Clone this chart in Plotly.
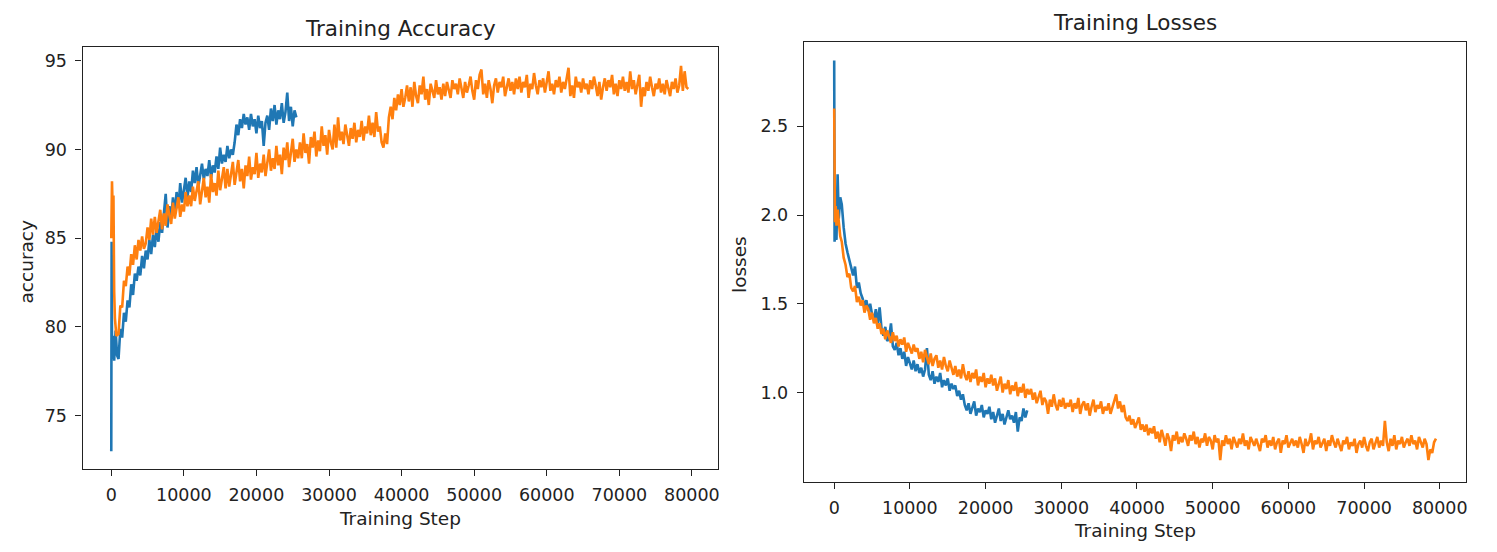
import plotly.graph_objects as go

# ---- data (training step vs. metric) ----
# the first few hundred steps are listed point by point, the rest is
# sampled every STEP steps starting at step 1000 (20 values = 5000 steps per row)
STEP = 250

# accuracy, run 1 (blue)
acc1_early_x = [0, 50, 100, 200, 300, 400, 600, 800]
acc1_early_y = [73.0, 84.8, 79.0, 78.2, 79.5, 78.1, 79.8, 78.4]
acc1_y = [
    78.2, 79.9, 79.4, 80.8, 80.3, 81.5, 81.1, 82.4, 81.8, 83.0, 82.6, 83.4, 82.9, 84.0, 83.3, 84.3, 83.8, 84.9, 84.1, 85.2,
    84.5, 85.6, 84.8, 85.9, 85.3, 86.4, 87.5, 85.6, 86.8, 86.1, 87.3, 86.4, 87.6, 86.7, 88.1, 87.0, 87.8, 88.4, 87.3, 88.2,
    87.6, 88.8, 88.1, 89.0, 87.9, 88.6, 89.2, 88.3, 88.9, 88.5, 89.4, 88.4, 89.1, 88.7, 89.6, 88.9, 90.1, 89.2, 89.7, 89.3,
    90.2, 89.5, 90.0, 89.7, 90.4, 91.4, 90.8, 91.7, 91.2, 92.0, 91.4, 91.8, 91.1, 92.0, 91.3, 91.7, 90.9, 91.9, 91.2, 91.6,
    90.2, 91.5, 91.9, 91.1, 92.3, 91.6, 92.5, 91.4, 92.2, 91.7, 92.6, 91.5, 92.1, 93.2, 91.6, 92.4, 91.3, 92.2, 91.8,
]

# accuracy, run 2 (orange)
acc2_early_x = [0, 100, 200, 300, 400, 500, 700]
acc2_early_y = [85.0, 88.2, 86.5, 87.4, 82.0, 80.5, 79.5]
acc2_y = [
    79.6, 81.2, 81.1, 82.6, 82.3, 83.4, 82.9, 84.1, 83.5, 84.6, 83.8, 84.9, 84.3, 85.1, 84.4, 84.7, 85.6, 84.9, 86.1, 85.2,
    86.2, 85.3, 85.9, 86.6, 85.5, 86.4, 85.7, 86.9, 86.3, 85.8, 87.0, 86.1, 86.7, 87.3, 86.2, 86.9, 86.5, 87.6, 86.8, 87.4,
    86.8, 87.9, 87.1, 87.6, 88.2, 86.9, 87.7, 88.4, 87.3, 87.9, 87.0, 88.6, 87.6, 88.1, 87.4, 88.8, 87.7, 88.3, 89.0, 87.8,
    88.9, 87.9, 88.6, 89.3, 88.0, 88.7, 89.4, 88.2, 88.9, 87.8, 89.1, 88.5, 89.6, 88.3, 89.0, 88.6, 89.8, 88.4, 89.2, 88.7,
    89.7, 88.5, 89.3, 90.0, 88.8, 89.5, 88.9, 90.2, 89.1, 89.7, 88.6, 90.1, 89.4, 90.4, 89.0, 89.8, 90.6, 89.3, 90.0, 89.5,
    90.4, 89.5, 90.9, 89.8, 90.3, 89.2, 90.7, 90.1, 91.0, 89.6, 90.5, 89.9, 91.3, 90.2, 90.8, 89.7, 91.1, 90.4, 90.0, 91.4,
    90.1, 91.8, 90.5, 91.0, 90.3, 91.4, 90.8, 90.2, 91.2, 90.6, 91.5, 90.4, 91.1, 90.7, 91.6, 90.5, 91.3, 90.9, 91.9, 90.8,
    91.5, 90.7, 92.1, 91.0, 91.3, 90.4, 90.1, 90.9, 90.3, 91.8, 92.4, 91.7, 92.9, 92.2, 93.1, 92.5, 93.4, 92.4, 92.9, 93.6,
    92.7, 93.5, 92.4, 93.8, 93.0, 92.6, 93.6, 93.1, 94.1, 92.8, 93.4, 92.5, 93.7, 93.2, 92.9, 93.9, 93.1, 93.5, 92.8, 93.7,
    93.0, 93.8, 93.3, 92.9, 93.9, 93.4, 93.7, 93.1, 94.0, 93.5, 92.9, 93.8, 93.2, 93.6, 94.1, 93.3, 92.8, 93.9, 93.4, 94.2,
    94.5, 93.1, 93.7, 92.9, 93.9, 93.4, 92.6, 93.6, 94.0, 93.2, 93.8, 93.5, 94.1, 93.0, 93.6, 94.0, 93.3, 93.8, 93.1, 94.0,
    93.4, 94.1, 93.2, 93.8, 93.5, 94.2, 92.9, 93.7, 93.4, 94.3, 93.6, 93.1, 93.9, 93.5, 94.0, 93.2, 93.8, 94.4, 93.3, 93.7,
    93.1, 93.9, 93.5, 94.1, 93.2, 93.8, 93.4, 94.0, 94.6, 93.0, 93.6, 92.9, 94.1, 93.5, 93.8, 93.2, 94.0, 93.4, 93.7, 93.1,
    93.9, 93.4, 94.1, 93.6, 93.0, 93.8, 92.8, 93.5, 94.0, 93.3, 93.9, 93.5, 94.2, 93.1, 93.7, 93.0, 93.9, 93.4, 94.1, 93.3,
    93.8, 93.2, 94.4, 93.4, 93.9, 93.1, 93.6, 94.2, 92.4, 93.5, 93.0, 93.8, 93.3, 94.1, 93.5, 93.0, 93.7, 93.4, 94.0, 93.2,
    93.7, 93.1, 93.9, 93.5, 93.0, 93.8, 93.4, 94.0, 93.2, 93.6, 94.7, 93.3, 94.4, 93.5, 93.4,
]

# losses, run 1 (blue)
loss1_early_x = [0, 50, 150, 300, 450, 600, 800]
loss1_early_y = [2.87, 1.85, 1.95, 1.86, 2.23, 1.98, 2.10]
loss1_y = [
    2.06, 1.93, 1.84, 1.79, 1.74, 1.70, 1.66, 1.71, 1.59, 1.62, 1.56, 1.53, 1.49, 1.52, 1.46, 1.50, 1.44, 1.41, 1.47, 1.39,
    1.48, 1.36, 1.32, 1.37, 1.29, 1.31, 1.39, 1.26, 1.24, 1.28, 1.21, 1.25, 1.19, 1.23, 1.15, 1.20, 1.17, 1.13, 1.18, 1.12,
    1.16, 1.11, 1.14, 1.09, 1.13, 1.25, 1.10, 1.07, 1.12, 1.05, 1.09, 1.06, 1.11, 1.03, 1.07, 1.04, 1.08, 1.01, 1.05, 1.02,
    1.04, 0.98, 1.01, 0.96, 0.99, 0.93, 0.90, 0.94, 0.88, 0.92, 0.95, 0.87, 0.91, 0.89, 0.93, 0.86, 0.90, 0.88, 0.92, 0.85,
    0.89, 0.83, 0.87, 0.91, 0.84, 0.88, 0.82, 0.86, 0.90, 0.85, 0.87, 0.83, 0.89, 0.78, 0.86, 0.84, 0.91, 0.86, 0.90,
]

# losses, run 2 (orange)
loss2_early_x = [0, 100, 200, 300, 450, 600, 800]
loss2_early_y = [2.60, 1.96, 2.05, 1.94, 2.03, 1.95, 1.88]
loss2_y = [
    1.85, 1.76, 1.72, 1.65, 1.67, 1.59, 1.57, 1.60, 1.51, 1.54, 1.49, 1.52, 1.45, 1.49, 1.47, 1.41, 1.45, 1.39, 1.42, 1.36,
    1.39, 1.33, 1.36, 1.30, 1.35, 1.32, 1.28, 1.34, 1.29, 1.32, 1.26, 1.30, 1.27, 1.31, 1.23, 1.28, 1.25, 1.22, 1.27, 1.23,
    1.25, 1.19, 1.23, 1.17, 1.24, 1.20, 1.16, 1.22, 1.15, 1.19, 1.21, 1.14, 1.18, 1.13, 1.20, 1.15, 1.12, 1.18, 1.14, 1.10,
    1.15, 1.09, 1.13, 1.08, 1.16, 1.10, 1.07, 1.12, 1.06, 1.11, 1.08, 1.13, 1.04, 1.09, 1.06, 1.11, 1.03, 1.08, 1.05, 1.10,
    1.04, 1.08, 1.01, 1.06, 1.09, 1.00, 1.05, 1.02, 1.07, 0.99, 1.04, 1.01, 1.06, 0.98, 1.03, 1.00, 1.05, 0.97, 1.02, 0.99,
    1.02, 0.96, 1.00, 0.94, 0.98, 1.01, 0.93, 0.97, 0.95, 0.88, 0.96, 0.92, 0.99, 0.93, 0.90, 0.96, 0.92, 0.97, 0.91, 0.94,
    0.92, 0.96, 0.89, 0.94, 0.91, 0.97, 0.88, 0.93, 0.95, 0.90, 0.94, 0.87, 0.92, 0.96, 0.89, 0.93, 0.91, 0.95, 0.88, 0.92,
    0.90, 0.94, 0.88, 0.92, 0.96, 0.99, 0.91, 0.95, 0.89, 0.93, 0.86, 0.84, 0.87, 0.82, 0.85, 0.80, 0.83, 0.86, 0.79, 0.82,
    0.78, 0.82, 0.76, 0.80, 0.77, 0.81, 0.74, 0.78, 0.72, 0.79, 0.75, 0.70, 0.77, 0.74, 0.67, 0.76, 0.73, 0.78, 0.71, 0.75,
    0.72, 0.77, 0.74, 0.70, 0.76, 0.73, 0.78, 0.71, 0.75, 0.69, 0.74, 0.72, 0.77, 0.70, 0.75, 0.73, 0.68, 0.76, 0.72, 0.74,
    0.62, 0.73, 0.70, 0.76, 0.71, 0.74, 0.68, 0.75, 0.72, 0.69, 0.74, 0.71, 0.77, 0.70, 0.73, 0.68, 0.75, 0.72, 0.70, 0.74,
    0.71, 0.67, 0.74, 0.72, 0.76, 0.69, 0.73, 0.70, 0.75, 0.68, 0.72, 0.74, 0.66, 0.73, 0.71, 0.76, 0.69, 0.72, 0.74, 0.70,
    0.73, 0.69, 0.75, 0.71, 0.66, 0.74, 0.70, 0.72, 0.77, 0.68, 0.73, 0.71, 0.75, 0.69, 0.72, 0.74, 0.67, 0.73, 0.70, 0.76,
    0.72, 0.69, 0.74, 0.70, 0.67, 0.73, 0.71, 0.75, 0.68, 0.72, 0.70, 0.74, 0.66, 0.71, 0.73, 0.69, 0.75, 0.70, 0.67, 0.72,
    0.74, 0.68, 0.71, 0.75, 0.69, 0.73, 0.70, 0.84, 0.72, 0.67, 0.74, 0.70, 0.76, 0.68, 0.73, 0.71, 0.75, 0.69, 0.72, 0.74,
    0.70, 0.76, 0.71, 0.73, 0.68, 0.75, 0.72, 0.69, 0.74, 0.71, 0.62, 0.68, 0.66, 0.72, 0.74,
]

x_ticks = [0, 10000, 20000, 30000, 40000, 50000, 60000, 70000, 80000]
acc_ticks = [75, 80, 85, 90, 95]
loss_ticks = [1.0, 1.5, 2.0, 2.5]

BLUE = "#1f77b4"
ORANGE = "#ff7f0e"

# the page body keeps the browser's 8px margin, so the figure is made
# 16px smaller than the window and every position is taken from the
# window's top-left corner minus that margin
PAGE_W, PAGE_H, PAD = 1497, 552, 8
W, H = PAGE_W - 2 * PAD, PAGE_H - 2 * PAD


def px(x):
    return (x - PAD) / W


def py(y):
    return 1 - (y - PAD) / H


def series(early_x, early_y, vals):
    xs = list(early_x) + [1000 + STEP * i for i in range(len(vals))]
    ys = list(early_y) + list(vals)
    return xs, ys


def axis_common(ticks, labels):
    return dict(
        tickvals=ticks, ticktext=labels, ticks="outside", ticklen=6, tickwidth=1.2,
        tickcolor="#222", showline=True, linecolor="#222", linewidth=1.3,
        mirror=True, showgrid=False, zeroline=False,
        tickfont=dict(size=17.5, color="#222"),
    )


x_labels = [str(t) for t in x_ticks]

fig = go.Figure()
for ex, ey, v, c, ax in [
    (acc1_early_x, acc1_early_y, acc1_y, BLUE, ("x", "y")),
    (acc2_early_x, acc2_early_y, acc2_y, ORANGE, ("x", "y")),
    (loss1_early_x, loss1_early_y, loss1_y, BLUE, ("x2", "y2")),
    (loss2_early_x, loss2_early_y, loss2_y, ORANGE, ("x2", "y2")),
]:
    xs, ys = series(ex, ey, v)
    fig.add_trace(go.Scatter(x=xs, y=ys, mode="lines", xaxis=ax[0], yaxis=ax[1],
                             line=dict(color=c, width=2.6), showlegend=False))

fig.update_layout(
    width=W, height=H, autosize=False,
    margin=dict(l=0, r=0, t=0, b=0),
    paper_bgcolor="white", plot_bgcolor="white",
    font=dict(family="DejaVu Sans", color="#222"),
    xaxis=dict(domain=[px(82.7), px(718.7)], range=[-3950, 83560],
               anchor="y", ticklabelstandoff=4, **axis_common(x_ticks, x_labels)),
    yaxis=dict(domain=[py(469), py(47.3)], range=[72.0, 95.75],
               anchor="x", ticklabelstandoff=5,
               **axis_common(acc_ticks, [str(t) for t in acc_ticks])),
    xaxis2=dict(domain=[px(805), px(1467.7)], range=[-4000, 83430],
                anchor="y2", ticklabelstandoff=4, **axis_common(x_ticks, x_labels)),
    yaxis2=dict(domain=[py(481.5), py(42.3)], range=[0.499, 2.973],
                anchor="x2", ticklabelstandoff=5,
                **axis_common(loss_ticks, [f"{t:.1f}" for t in loss_ticks])),
)

labels = [
    ("Training Accuracy", 400.7, 28, 21.5, 0),
    ("Training Losses", 1136.4, 22, 21.5, 0),
    ("Training Step", 400.7, 518, 18.5, 0),
    ("Training Step", 1136.4, 530, 18.5, 0),
    ("accuracy", 27.5, 261, 18.5, -90),
    ("losses", 740, 265, 18.5, -90),
]
for text, lx, ly, size, ang in labels:
    fig.add_annotation(text=text, x=px(lx), y=py(ly), xref="paper", yref="paper",
                       showarrow=False, textangle=ang, xanchor="center", yanchor="middle",
                       font=dict(size=size, color="#222"))

fig.write_html("out.html")
